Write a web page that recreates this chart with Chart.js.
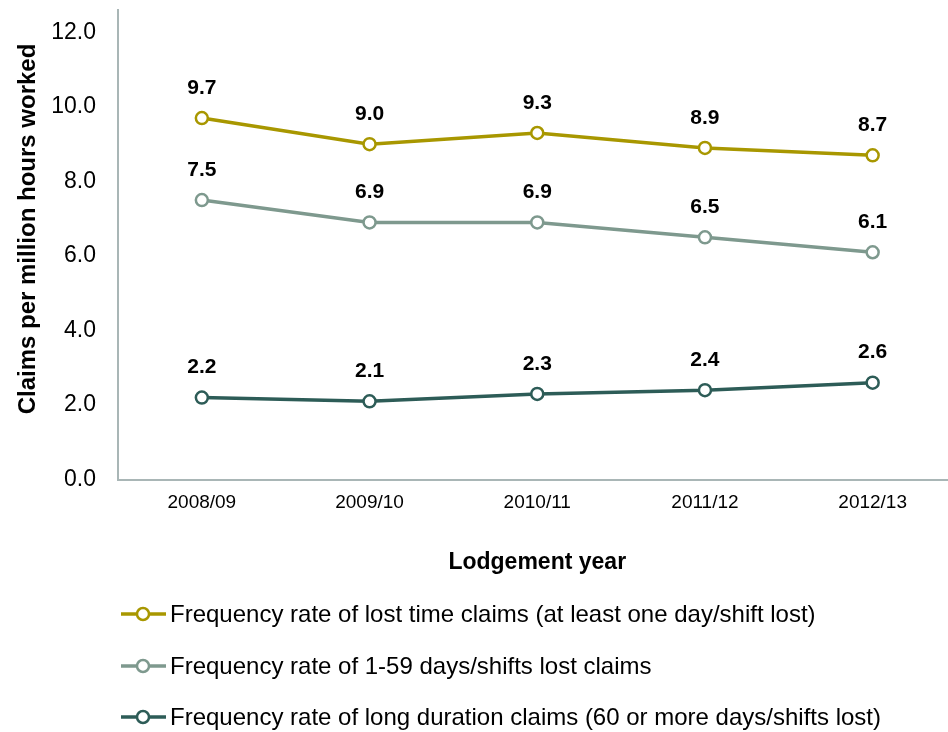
<!DOCTYPE html>
<html>
<head>
<meta charset="utf-8">
<title>Claims frequency rates</title>
<script src="https://cdn.jsdelivr.net/npm/chart.js@4.4.1/dist/chart.umd.min.js"></script>
<style>
  html, body { margin: 0; padding: 0; background: #fff; overflow: hidden; }
  #wrap { position: relative; width: 965px; height: 732px; }
</style>
</head>
<body>
<div id="wrap"><canvas id="claims-chart"></canvas></div>
<script>
// Lodgement years on the x axis
var years = ["2008/09", "2009/10", "2010/11", "2011/12", "2012/13"];

// Claims per million hours worked
var lostTimeRates = [9.7, 9.0, 9.3, 8.9, 8.7];
var shortClaimRates = [7.5, 6.9, 6.9, 6.5, 6.1];
var longClaimRates = [2.2, 2.1, 2.3, 2.4, 2.6];

var seriesNames = [
    "Frequency rate of lost time claims (at least one day/shift lost)",
    "Frequency rate of 1-59 days/shifts lost claims",
    "Frequency rate of long duration claims (60 or more days/shifts lost)"
];
var seriesColors = ["#A89700", "#7E998E", "#2D5C57"];

var yTicks = [0, 2, 4, 6, 8, 10, 12];
var yTitle = "Claims per million hours worked";

var fontFamily = "'Liberation Sans', Arial, sans-serif";

function makeSeries(i, data) {
    return {
        label: seriesNames[i],
        data: data,
        borderColor: seriesColors[i],
        backgroundColor: "#ffffff",
        borderWidth: 3.5,
        pointRadius: 6,
        pointBorderWidth: 2.5,
        pointBackgroundColor: "#ffffff",
        pointBorderColor: seriesColors[i],
        tension: 0
    };
}

// value labels above each point
var valueLabels = {
    id: "valueLabels",
    afterDatasetsDraw: function (chart) {
        var ctx = chart.ctx;
        ctx.save();
        ctx.font = "bold 21px " + fontFamily;
        ctx.fillStyle = "#000";
        ctx.textAlign = "center";
        ctx.textBaseline = "middle";
        chart.data.datasets.forEach(function (ds, i) {
            chart.getDatasetMeta(i).data.forEach(function (pt, j) {
                ctx.fillText(ds.data[j].toFixed(1), pt.x, pt.y - 30);
            });
        });
        ctx.restore();
    }
};

// rotated y axis title, sitting a little above the plot's middle
var sideTitle = {
    id: "sideTitle",
    afterDraw: function (chart) {
        var ctx = chart.ctx;
        ctx.save();
        ctx.translate(28, 229);
        ctx.rotate(-Math.PI / 2);
        ctx.font = "bold 24px " + fontFamily;
        ctx.fillStyle = "#000";
        ctx.textAlign = "center";
        ctx.textBaseline = "middle";
        ctx.fillText(yTitle, 0, 0);
        ctx.restore();
    }
};

// stacked legend under the x axis title
var stackedLegend = {
    id: "stackedLegend",
    afterDraw: function (chart) {
        var ctx = chart.ctx;
        var rows = [614, 666, 717];
        ctx.save();
        ctx.font = "24px " + fontFamily;
        ctx.textBaseline = "middle";
        ctx.textAlign = "left";
        chart.data.datasets.forEach(function (ds, i) {
            var y = rows[i];
            ctx.strokeStyle = ds.borderColor;
            ctx.lineWidth = 3.5;
            ctx.beginPath();
            ctx.moveTo(121, y);
            ctx.lineTo(166, y);
            ctx.stroke();
            ctx.beginPath();
            ctx.arc(143, y, 6, 0, Math.PI * 2);
            ctx.fillStyle = "#fff";
            ctx.fill();
            ctx.lineWidth = 2.5;
            ctx.stroke();
            ctx.fillStyle = "#000";
            ctx.fillText(ds.label, 170, y + 1);
        });
        ctx.restore();
    }
};

var ctx = document.getElementById("claims-chart");

var chartData = {
    labels: years,
    datasets: [
        makeSeries(0, lostTimeRates),
        makeSeries(1, shortClaimRates),
        makeSeries(2, longClaimRates)
    ]
};

var chartOptions = {
    responsive: true,
    maintainAspectRatio: false,
    animation: false,
    layout: { padding: { left: 4, top: 10, right: 3, bottom: 156 } },
    plugins: {
        legend: { display: false },
        tooltip: { enabled: false }
    },
    scales: {
        x: {
            offset: true,
            grid: { display: false, drawTicks: false },
            border: { color: "#A9B6B6", width: 2 },
            afterFit: function (axis) {
                axis.paddingLeft = 0;
                axis.paddingRight = 0;
            },
            ticks: { color: "#000", padding: 12, font: { family: fontFamily, size: 19 } },
            title: {
                display: true,
                text: "Lodgement year",
                color: "#000",
                padding: { top: 22, bottom: 0 },
                font: { family: fontFamily, size: 23, weight: "bold" }
            }
        },
        y: {
            min: 0,
            max: 12.6,
            grid: { display: false, drawTicks: false },
            border: { color: "#A9B6B6", width: 2 },
            afterBuildTicks: function (axis) {
                axis.ticks = yTicks.map(function (v) { return { value: v }; });
            },
            afterFit: function (axis) {
                axis.width = 114;
                axis.paddingTop = 0;
                axis.paddingBottom = 0;
            },
            ticks: {
                color: "#000",
                padding: 22,
                font: { family: fontFamily, size: 23 },
                callback: function (v) { return Number(v).toFixed(1); }
            },
            title: { display: false }
        }
    }
};

var claimsChart = new Chart(ctx, {
    type: "line",
    data: chartData,
    options: chartOptions,
    plugins: [valueLabels, sideTitle, stackedLegend]
});
</script>
</body>
</html>
